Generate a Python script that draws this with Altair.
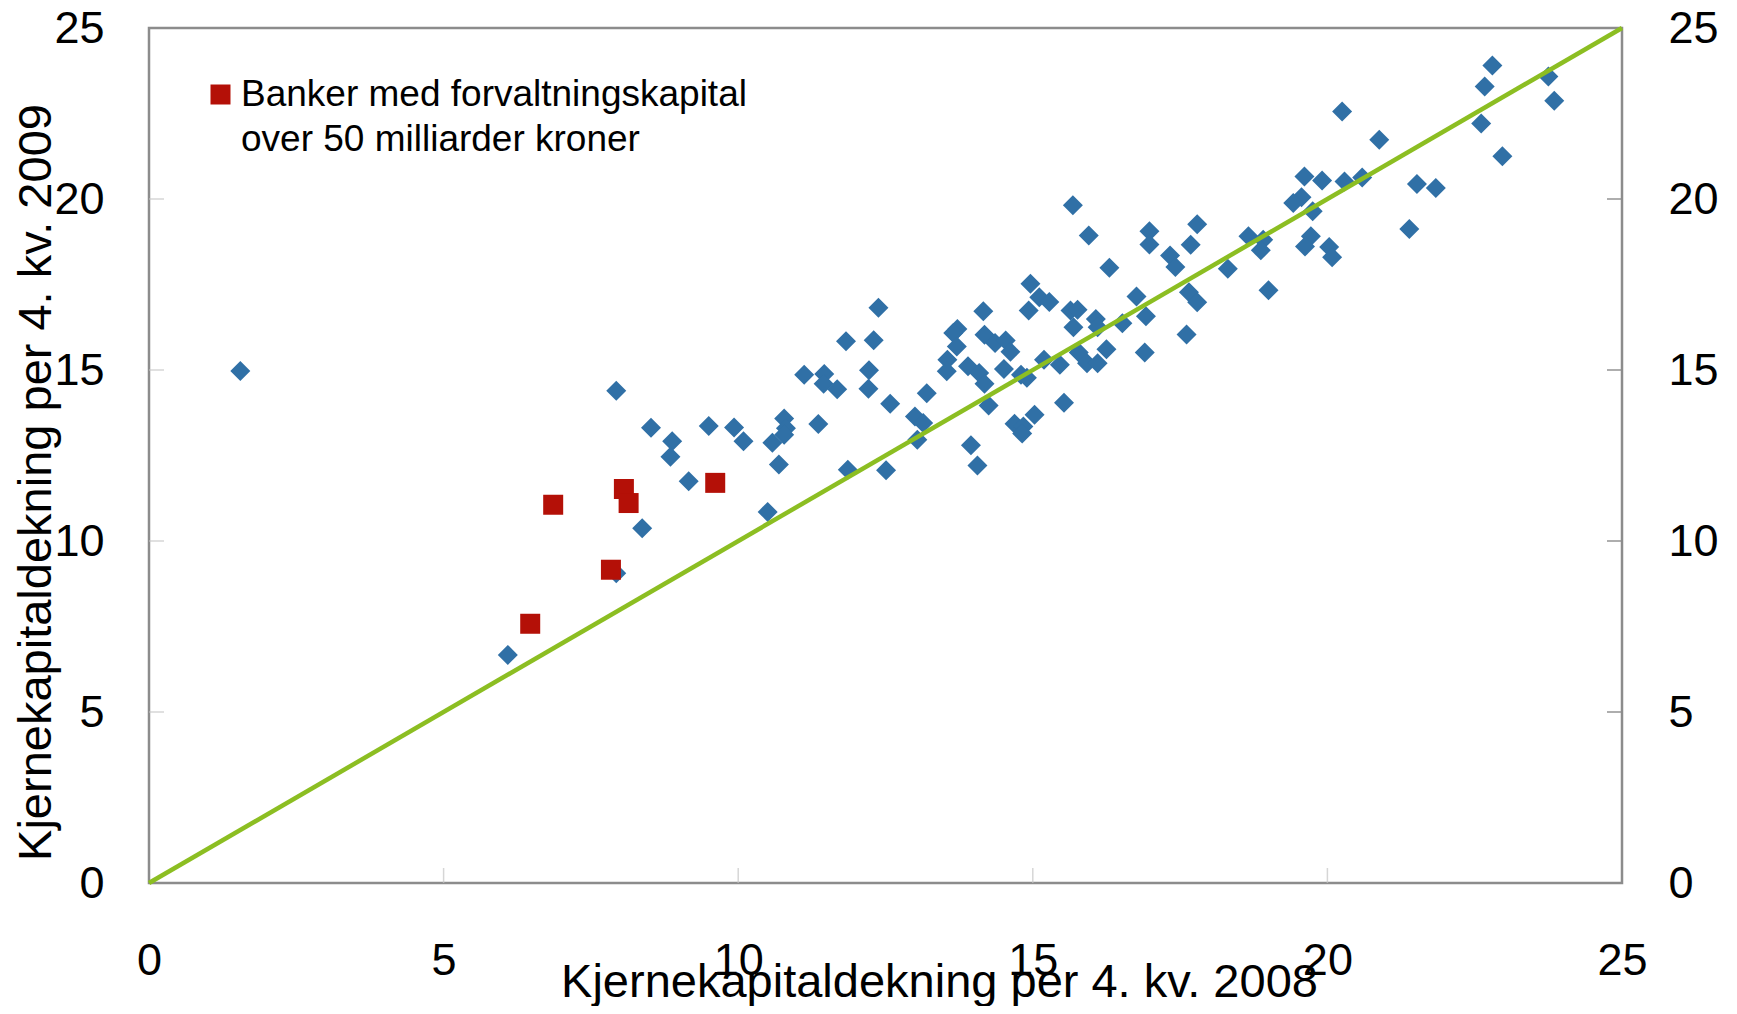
import altair as alt
import pandas as pd

# Blue diamonds: all banks (x = core capital ratio Q4 2008, y = Q4 2009)
blue_x = [12.38, 11.83, 12.30, 7.93, 11.12, 11.46, 11.45, 11.68, 12.22, 12.21, 12.58,
          8.52, 8.88, 8.85, 9.50, 9.93, 10.09, 10.78, 10.81, 10.78, 10.58, 11.36, 10.69,
          9.16, 11.86, 12.51, 10.50, 1.55, 6.09, 7.93, 8.37,
          15.68, 15.95, 16.98, 16.98, 17.79, 17.68, 17.33, 17.42, 18.31, 18.66, 16.30,
          14.96, 15.11, 15.28, 14.93, 14.16, 16.76, 17.65, 17.79, 17.61, 15.64, 15.76,
          15.69, 16.07, 16.10, 16.52, 16.92, 16.90, 16.25, 15.78, 15.92, 16.10, 15.46,
          15.19, 13.72, 13.65, 13.71, 14.18, 14.36, 14.54, 14.62, 13.55, 13.54, 13.90,
          14.09, 14.18, 14.51, 14.80, 14.90, 14.25, 13.20, 13.00, 13.14, 13.04, 13.95,
          14.06, 14.69, 14.84, 15.03, 14.82, 15.53,
          22.80, 22.67, 23.75, 23.85, 22.61, 22.97, 20.25, 20.88, 19.61, 19.91, 20.29,
          20.59, 21.52, 21.84, 19.56, 19.42, 19.75, 21.39, 18.91, 18.87, 19.72, 19.62,
          20.03, 20.08, 19.00]
blue_y = [16.82, 15.84, 15.87, 14.39, 14.86, 14.88, 14.60, 14.44, 14.99, 14.45, 14.01,
          13.31, 12.92, 12.46, 13.36, 13.32, 12.92, 13.58, 13.30, 13.11, 12.87, 13.42, 12.24,
          11.75, 12.08, 12.07, 10.85, 14.97, 6.67, 9.06, 10.37,
          19.82, 18.93, 19.06, 18.67, 19.26, 18.66, 18.35, 18.01, 17.96, 18.91, 17.99,
          17.52, 17.13, 16.99, 16.74, 16.72, 17.15, 17.27, 16.98, 16.04, 16.74, 16.76,
          16.25, 16.49, 16.25, 16.37, 16.57, 15.51, 15.61, 15.51, 15.20, 15.20, 15.15,
          15.30, 16.20, 16.08, 15.69, 16.03, 15.79, 15.86, 15.53, 15.30, 14.96, 15.11,
          14.91, 14.60, 15.03, 14.86, 14.77, 13.96, 14.32, 13.64, 13.45, 12.96, 12.80,
          12.21, 13.43, 13.35, 13.69, 13.14, 14.04,
          23.90, 23.29, 23.58, 22.87, 22.21, 21.25, 22.56, 21.73, 20.66, 20.54, 20.51,
          20.63, 20.44, 20.32, 20.05, 19.88, 19.64, 19.12, 18.81, 18.50, 18.91, 18.61,
          18.60, 18.30, 17.33]

# Red squares: banks with total assets above NOK 50 billion
red_x = [6.47, 6.86, 7.84, 8.06, 8.14, 9.61]
red_y = [7.58, 11.06, 9.16, 11.52, 11.11, 11.70]

# 45-degree reference line
line_x = [0, 25]
line_y = [0, 25]

axis_values = [0, 5, 10, 15, 20, 25]
inner_ticks = [5, 10, 15, 20]

legend_label = "Banker med forvaltningskapital over 50 milliarder kroner"
x_title = "Kjernekapitaldekning per 4. kv. 2008"
y_title = "Kjernekapitaldekning per 4. kv. 2009"

FONT = "Liberation Sans"
BLUE = "#3070A6"
RED = "#B41007"
GREEN = "#8CBE22"

blue_df = pd.DataFrame({"x": blue_x, "y": blue_y})
red_df = pd.DataFrame({"x": red_x, "y": red_y, "grp": [legend_label] * len(red_x)})
line_df = pd.DataFrame({"x": line_x, "y": line_y})
xt_df = pd.DataFrame({"x": inner_ticks, "y": [0] * len(inner_ticks)})
ylt_df = pd.DataFrame({"x": [0] * len(inner_ticks), "y": inner_ticks})
yrt_df = pd.DataFrame({"x": [25] * len(inner_ticks), "y": inner_ticks})

xs = alt.Scale(domain=[0, 25], nice=False, zero=False)
ys = alt.Scale(domain=[0, 25], nice=False, zero=False)

x_axis = alt.Axis(values=axis_values, labelPadding=55, labelFlush=False, labelOverlap=False,
                  title=x_title, titleX=790, titleY=113, titleAlign="center",
                  titleBaseline="alphabetic")
y_axis_left = alt.Axis(values=axis_values, orient="left", labelPadding=45, labelFlush=False,
                       labelOverlap=False, title=y_title, titleX=-99, titleY=454,
                       titleAlign="center", titleBaseline="alphabetic", titleAngle=270)
y_axis_right = alt.Axis(values=axis_values, orient="right", labelPadding=46, labelFlush=False,
                        labelOverlap=False, title=None)

X = alt.X("x:Q", scale=xs, axis=x_axis)

blue = alt.Chart(blue_df).mark_point(shape="diamond", filled=True, size=400, opacity=1,
                                     color=BLUE).encode(
    x=X,
    y=alt.Y("y:Q", scale=ys, axis=y_axis_left),
)

line = alt.Chart(line_df).mark_line(color=GREEN, strokeWidth=4.5).encode(
    x=X,
    y=alt.Y("y:Q", scale=ys, axis=y_axis_right),
)

red = alt.Chart(red_df).mark_point(shape="square", filled=True, size=400, opacity=1).encode(
    x=X,
    y=alt.Y("y:Q", scale=ys, axis=None),
    color=alt.Color("grp:N", scale=alt.Scale(domain=[legend_label], range=[RED]),
                    legend=alt.Legend(orient="none", legendX=53, legendY=48, title=None,
                                      symbolType="square", symbolSize=400,
                                      labelFont=FONT, labelFontSize=37, labelColor="black",
                                      labelLimit=1000, labelOffset=2, padding=0,
                                      labelExpr="['Banker med forvaltningskapital', 'over 50 milliarder kroner']")),
)

xticks = alt.Chart(xt_df).mark_tick(orient="vertical", size=30, thickness=1.5,
                                    color="#c4c4c4", clip=True).encode(
    x=X,
    y=alt.Y("y:Q", scale=ys, axis=None),
)
ylticks = alt.Chart(ylt_df).mark_tick(orient="horizontal", size=30, thickness=1.5,
                                      color="#c4c4c4", clip=True).encode(
    x=X,
    y=alt.Y("y:Q", scale=ys, axis=None),
)
yrticks = alt.Chart(yrt_df).mark_tick(orient="horizontal", size=30, thickness=2,
                                      color="#8c8c8c", clip=True).encode(
    x=X,
    y=alt.Y("y:Q", scale=ys, axis=None),
)

chart = alt.layer(xticks, ylticks, yrticks, blue, line, red).resolve_axis(
    y="independent"
).properties(
    width=1473, height=855,
    autosize=alt.AutoSizeParams(type="none"),
    padding={"left": 141, "top": 20, "right": 99, "bottom": 123},
).configure(
    style={"guide-label": {"lineHeight": 45}}
).configure_view(
    stroke="#8c8c8c", strokeWidth=2.5
).configure_axis(
    domain=False, ticks=False, tickSize=0, grid=False,
    labelFont=FONT, labelFontSize=45, labelColor="black",
    titleFont=FONT, titleFontSize=47, titleFontWeight="normal", titleColor="black",
)

chart.save("out.html", embed_options={"renderer": "svg", "actions": False})
